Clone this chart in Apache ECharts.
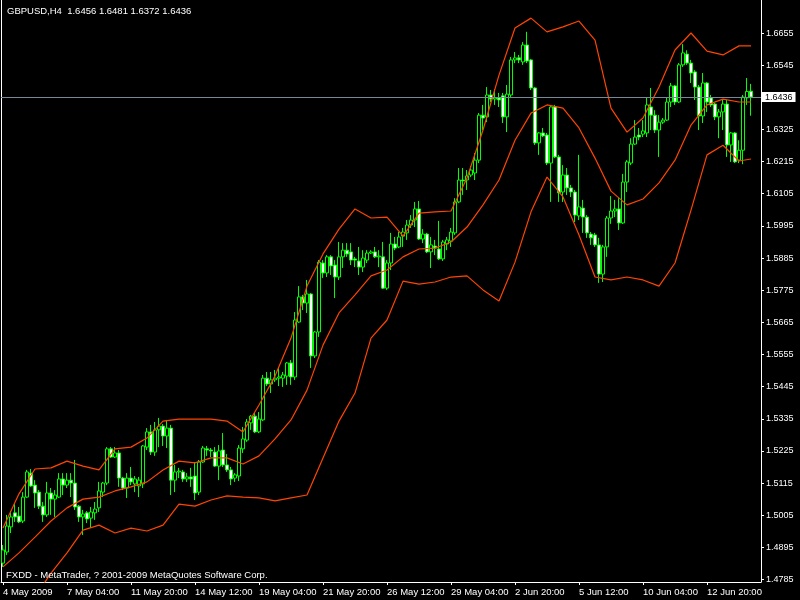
<!DOCTYPE html>
<html>
<head>
<meta charset="utf-8">
<script src="https://cdn.jsdelivr.net/npm/echarts/dist/echarts.min.js"></script>
<style>
html,body{margin:0;padding:0;background:#000;}
#chart{width:800px;height:600px;}
</style>
</head>
<body>
<div id="chart"></div>
<script>
const symbolName = 'GBPUSD,H4';
const footerText = 'FXDD - MetaTrader, ? 2001-2009 MetaQuotes Software Corp.';
const tickLabels = ['4 May 2009','7 May 04:00','11 May 20:00','14 May 12:00','19 May 04:00','21 May 20:00','26 May 12:00','29 May 04:00','2 Jun 20:00','5 Jun 12:00','10 Jun 04:00','12 Jun 20:00'];
const priceTicks = [1.4785,1.4895,1.5005,1.5115,1.5225,1.5335,1.5445,1.5555,1.5665,1.5775,1.5885,1.5995,1.6105,1.6215,1.6325,1.6436,1.6545,1.6655];

const opens = [
1.4841,1.4879,1.4965,1.5013,1.5002,1.4985,1.5067,1.5149,1.5108,1.5084,
1.5036,1.5006,1.5081,1.5060,1.5067,1.5129,1.5108,1.5125,1.5115,1.5036,
1.4999,1.5013,1.4995,1.5013,1.5030,1.5084,1.5115,1.5232,1.5204,1.5218,
1.5132,1.5098,1.5132,1.5112,1.5105,1.5112,1.5238,1.5290,1.5221,1.5297,
1.5310,1.5276,1.5303,1.5125,1.5153,1.5153,1.5129,1.5136,1.5139,1.5084,
1.5187,1.5232,1.5228,1.5221,1.5173,1.5228,1.5177,1.5160,1.5132,1.5139,
1.5232,1.5262,1.5321,1.5344,1.5290,1.5331,1.5474,1.5454,1.5468,1.5474,
1.5474,1.5481,1.5526,1.5478,1.5666,1.5752,1.5731,1.5762,1.5550,1.5632,
1.5868,1.5834,1.5889,1.5861,1.5820,1.5889,1.5912,1.5906,1.5882,1.5875,
1.5854,1.5878,1.5902,1.5906,1.5889,1.5889,1.5782,1.5868,1.5933,1.5923,
1.5960,1.5971,1.5998,1.6015,1.6053,1.5950,1.5967,1.5906,1.5926,1.5916,
1.5882,1.5933,1.5943,1.5971,1.6077,1.6152,1.6152,1.6169,1.6176,1.6220,
1.6374,1.6368,1.6443,1.6429,1.6433,1.6440,1.6368,1.6443,1.6563,1.6570,
1.6556,1.6614,1.6563,1.6467,1.6279,1.6313,1.6306,1.6210,1.6402,1.6231,
1.6111,1.6169,1.6125,1.6111,1.6029,1.6056,1.6025,1.5967,1.5964,1.5930,
1.5830,1.5923,1.6022,1.6046,1.6053,1.6005,1.6145,1.6210,1.6275,1.6306,
1.6309,1.6313,1.6402,1.6374,1.6323,1.6350,1.6357,1.6419,1.6474,1.6419,
1.6546,1.6583,1.6552,1.6522,1.6470,1.6371,1.6484,1.6433,1.6412,1.6368,
1.6385,1.6412,1.6272,1.6313,1.6220,1.6254,1.6433,1.6456];

const highs = [
1.4903,1.5006,1.5019,1.5043,1.5033,1.5084,1.5160,1.5163,1.5125,1.5091,
1.5050,1.5119,1.5098,1.5091,1.5149,1.5149,1.5149,1.5149,1.5194,1.5040,
1.5023,1.5019,1.5033,1.5050,1.5119,1.5119,1.5238,1.5238,1.5238,1.5228,
1.5136,1.5149,1.5170,1.5139,1.5136,1.5245,1.5303,1.5314,1.5324,1.5338,
1.5317,1.5331,1.5314,1.5177,1.5167,1.5160,1.5149,1.5167,1.5187,1.5194,
1.5242,1.5242,1.5235,1.5238,1.5245,1.5286,1.5214,1.5170,1.5149,1.5245,
1.5307,1.5334,1.5348,1.5355,1.5358,1.5485,1.5495,1.5495,1.5502,1.5509,
1.5495,1.5529,1.5536,1.5700,1.5789,1.5759,1.5810,1.5765,1.5635,1.5878,
1.5878,1.5895,1.5895,1.5878,1.5940,1.5936,1.5936,1.5936,1.5889,1.5923,
1.5912,1.5912,1.5912,1.5923,1.5912,1.5940,1.5878,1.5971,1.5957,1.5974,
1.5988,1.6015,1.6032,1.6077,1.6080,1.5984,1.5971,1.5957,1.5947,1.6012,
1.5947,1.5957,1.5988,1.6090,1.6193,1.6193,1.6186,1.6200,1.6244,1.6381,
1.6409,1.6470,1.6460,1.6463,1.6450,1.6450,1.6477,1.6573,1.6590,1.6580,
1.6624,1.6659,1.6566,1.6470,1.6316,1.6330,1.6313,1.6405,1.6409,1.6238,
1.6203,1.6193,1.6135,1.6118,1.6238,1.6084,1.6032,1.5974,1.5971,1.5954,
1.5930,1.6029,1.6097,1.6084,1.6090,1.6173,1.6220,1.6295,1.6357,1.6330,
1.6357,1.6436,1.6467,1.6391,1.6374,1.6364,1.6433,1.6484,1.6477,1.6552,
1.6617,1.6596,1.6563,1.6528,1.6477,1.6518,1.6487,1.6443,1.6416,1.6395,
1.6426,1.6426,1.6316,1.6316,1.6288,1.6443,1.6501,1.6481];

const lows = [
1.4828,1.4869,1.4944,1.4982,1.4978,1.4978,1.5064,1.5102,1.5030,1.5026,
1.4982,1.4999,1.5006,1.4999,1.5064,1.5074,1.5098,1.5067,1.5023,1.4982,
1.4937,1.4978,1.4961,1.4989,1.5016,1.5067,1.5108,1.5201,1.5201,1.5102,
1.5091,1.5064,1.5108,1.5084,1.5067,1.5098,1.5228,1.5211,1.5208,1.5238,
1.5242,1.5235,1.5074,1.5084,1.5132,1.5119,1.5119,1.5102,1.5057,1.5074,
1.5184,1.5208,1.5204,1.5170,1.5125,1.5170,1.5153,1.5108,1.5119,1.5122,
1.5218,1.5256,1.5297,1.5286,1.5286,1.5327,1.5447,1.5423,1.5461,1.5447,
1.5444,1.5451,1.5451,1.5468,1.5663,1.5707,1.5697,1.5509,1.5543,1.5615,
1.5817,1.5820,1.5827,1.5748,1.5810,1.5851,1.5889,1.5861,1.5854,1.5827,
1.5837,1.5868,1.5899,1.5885,1.5854,1.5779,1.5776,1.5844,1.5912,1.5919,
1.5923,1.5947,1.5988,1.5991,1.5947,1.5936,1.5902,1.5851,1.5895,1.5878,
1.5875,1.5912,1.5923,1.5964,1.6073,1.6101,1.6118,1.6162,1.6152,1.6210,
1.6323,1.6350,1.6419,1.6409,1.6402,1.6347,1.6316,1.6436,1.6552,1.6552,
1.6546,1.6552,1.6460,1.6272,1.6238,1.6299,1.6203,1.6077,1.6227,1.6077,
1.6077,1.6101,1.6094,1.6008,1.6015,1.5971,1.5954,1.5930,1.5923,1.5800,
1.5803,1.5889,1.6002,1.6025,1.5981,1.6002,1.6111,1.6203,1.6272,1.6288,
1.6299,1.6299,1.6323,1.6313,1.6231,1.6344,1.6354,1.6402,1.6409,1.6416,
1.6539,1.6546,1.6484,1.6426,1.6323,1.6347,1.6385,1.6402,1.6357,1.6295,
1.6323,1.6231,1.6214,1.6210,1.6210,1.6206,1.6409,1.6372];

const closes = [
1.4886,1.4968,1.4999,1.4999,1.4982,1.5067,1.5153,1.5105,1.5081,1.5036,
1.5006,1.5081,1.5060,1.5074,1.5129,1.5108,1.5125,1.5115,1.5033,1.4999,
1.5009,1.4992,1.5016,1.5026,1.5088,1.5115,1.5232,1.5204,1.5218,1.5132,
1.5098,1.5132,1.5119,1.5129,1.5125,1.5242,1.5290,1.5221,1.5297,1.5310,
1.5276,1.5303,1.5125,1.5153,1.5156,1.5129,1.5136,1.5129,1.5081,1.5187,
1.5235,1.5228,1.5225,1.5173,1.5225,1.5177,1.5160,1.5129,1.5143,1.5235,
1.5266,1.5324,1.5344,1.5290,1.5334,1.5474,1.5454,1.5468,1.5474,1.5478,
1.5485,1.5526,1.5478,1.5673,1.5752,1.5731,1.5762,1.5550,1.5632,1.5871,
1.5834,1.5889,1.5858,1.5820,1.5889,1.5912,1.5899,1.5878,1.5878,1.5854,
1.5885,1.5902,1.5906,1.5889,1.5892,1.5782,1.5868,1.5933,1.5919,1.5957,
1.5974,1.5998,1.6015,1.6053,1.5950,1.5967,1.5906,1.5930,1.5919,1.5882,
1.5940,1.5947,1.5974,1.6077,1.6152,1.6149,1.6166,1.6186,1.6220,1.6374,
1.6364,1.6443,1.6429,1.6433,1.6426,1.6368,1.6446,1.6563,1.6570,1.6563,
1.6614,1.6559,1.6467,1.6279,1.6313,1.6303,1.6210,1.6402,1.6231,1.6108,
1.6169,1.6125,1.6111,1.6032,1.6060,1.6025,1.5971,1.5954,1.5930,1.5830,
1.5923,1.6022,1.6046,1.6053,1.6005,1.6145,1.6214,1.6275,1.6299,1.6299,
1.6320,1.6409,1.6374,1.6323,1.6350,1.6357,1.6419,1.6474,1.6419,1.6546,
1.6587,1.6552,1.6518,1.6470,1.6371,1.6484,1.6419,1.6409,1.6368,1.6385,
1.6412,1.6272,1.6313,1.6214,1.6254,1.6436,1.6455,1.6436];

// Bollinger band readings, taken every 4th bar and at the last bar
const bandUpper = [
1.4961,1.5078,1.5163,1.5167,1.5190,1.5173,1.5160,1.5232,1.5238,1.5269,
1.5327,1.5334,1.5334,1.5334,1.5327,1.5290,1.5382,1.5481,1.5611,1.5789,
1.5899,1.5984,1.6053,1.6022,1.6025,1.5960,1.6039,1.6043,1.6046,1.6159,
1.6323,1.6511,1.6672,1.6706,1.6659,1.6676,1.6696,1.6631,1.6398,1.6316,
1.6364,1.6470,1.6597,1.6655,1.6593,1.6580,1.6611,1.6611];
const bandMiddle = [
1.4828,1.4876,1.4930,1.4985,1.5030,1.5060,1.5067,1.5088,1.5102,1.5119,
1.5160,1.5190,1.5184,1.5201,1.5201,1.5180,1.5208,1.5266,1.5331,1.5433,
1.5587,1.5697,1.5759,1.5824,1.5844,1.5889,1.5916,1.5919,1.5940,1.5991,
1.6067,1.6152,1.6288,1.6381,1.6409,1.6398,1.6330,1.6227,1.6114,1.6067,
1.6087,1.6142,1.6220,1.6340,1.6409,1.6429,1.6419,1.6419];
const bandLower = [
1.4578,1.4663,1.4725,1.4807,1.4876,1.4954,1.4971,1.4944,1.4961,1.4951,
1.4971,1.5043,1.5036,1.5057,1.5071,1.5067,1.5064,1.5054,1.5064,1.5074,
1.5201,1.5327,1.5423,1.5611,1.5673,1.5806,1.5796,1.5803,1.5820,1.5824,
1.5776,1.5738,1.5871,1.6043,1.6162,1.6094,1.5964,1.5820,1.5810,1.5820,
1.5810,1.5789,1.5868,1.6049,1.6238,1.6271,1.6217,1.6224];

const barCount = closes.length;
const chartShift = 2;           // empty bar slots at the right edge
const labelEvery = 16;
const bandStep = 4;

// bar times (H4, weekdays)
const categories = [];
(function(){
  let t = Date.UTC(2009, 4, 4, 12);
  while (categories.length < barCount + chartShift) {
    const d = new Date(t);
    const wd = d.getUTCDay();
    if (wd !== 0 && wd !== 6) categories.push(d.toISOString().slice(0, 16).replace('T', ' '));
    t += 4 * 3600 * 1000;
  }
})();

const bandBars = [];
for (let k = 0; k * bandStep < barCount - 1; k++) bandBars.push(k * bandStep);
bandBars.push(barCount - 1);

const candleData = opens.map((o, i) => [o, closes[i], lows[i], highs[i]]);
const toBand = arr => arr.map((v, k) => [bandBars[k], v]);

const last = barCount - 1;
const lastPrice = closes[last];
const headerText = symbolName + '  ' + [opens[last], highs[last], lows[last], closes[last]].map(v => v.toFixed(4)).join(' ');

const FONT = "'Liberation Sans', Arial, sans-serif";
const isLabelBar = idx => idx % labelEvery === 0 && idx / labelEvery < tickLabels.length;

const chart = echarts.init(document.getElementById('chart'), null, {renderer: 'canvas'});
const bandStyle = {color: '#ff4500', width: 1.2};
chart.setOption({
  backgroundColor: '#000000',
  animation: false,
  title: [
    {text: headerText, left: 7, top: 6, padding: 0, textStyle: {color: '#ffffff', fontSize: 9.5, fontWeight: 'normal', fontFamily: FONT}},
    {text: footerText, left: 6, top: 570, padding: 0, textStyle: {color: '#ffffff', fontSize: 9.5, fontWeight: 'normal', fontFamily: FONT}}
  ],
  grid: {left: 1, right: 39, top: 0, bottom: 18},
  xAxis: {
    type: 'category',
    data: categories,
    boundaryGap: true,
    axisLine: {show: true, lineStyle: {color: '#ffffff', width: 1}},
    axisTick: {show: true, alignWithLabel: true, length: 3, interval: idx => isLabelBar(idx), lineStyle: {color: '#ffffff'}},
    axisLabel: {
      show: true, interval: idx => isLabelBar(idx), align: 'left', margin: 5,
      color: '#ffffff', fontSize: 9.5, fontFamily: FONT,
      formatter: (val, idx) => tickLabels[idx / labelEvery]
    },
    splitLine: {show: false}
  },
  yAxis: [{
    type: 'value',
    position: 'right',
    min: 1.47764,
    max: 1.6768,
    axisLine: {show: true, lineStyle: {color: '#ffffff', width: 1}},
    axisTick: {show: true, length: 3, customValues: priceTicks, lineStyle: {color: '#ffffff'}},
    axisLabel: {show: true, customValues: priceTicks, margin: 5, color: '#ffffff', fontSize: 9, fontFamily: FONT, formatter: v => v.toFixed(4)},
    splitLine: {show: false}
  }, {
    type: 'value',
    position: 'left',
    min: 1.47764,
    max: 1.6768,
    axisLine: {show: true, lineStyle: {color: '#ffffff', width: 1}},
    axisTick: {show: false},
    axisLabel: {show: false},
    splitLine: {show: false}
  }],
  series: [{
    type: 'line',
    data: [],
    silent: true,
    z: 1,
    markLine: {
      silent: true,
      precision: 4,
      symbol: ['none', 'none'],
      data: [{yAxis: lastPrice}],
      lineStyle: {color: '#778899', width: 1, type: 'solid'},
      label: {
        show: true, position: 'end', distance: 1,
        formatter: () => lastPrice.toFixed(4),
        backgroundColor: '#ffffff', color: '#000000',
        fontSize: 9, fontFamily: FONT, padding: [1, 3, 0, 3]
      }
    }
  }, {
    type: 'candlestick',
    data: candleData,
    barWidth: 3,
    silent: true,
    z: 2,
    itemStyle: {
      color: '#000000', color0: '#ffffff',
      borderColor: '#00ff00', borderColor0: '#00ff00', borderColorDoji: '#00ff00',
      borderWidth: 1
    }
  }, {
    type: 'line', data: toBand(bandUpper), connectNulls: true, showSymbol: false, silent: true, lineStyle: bandStyle, z: 3
  }, {
    type: 'line', data: toBand(bandMiddle), connectNulls: true, showSymbol: false, silent: true, lineStyle: bandStyle, z: 3
  }, {
    type: 'line', data: toBand(bandLower), connectNulls: true, showSymbol: false, silent: true, lineStyle: bandStyle, z: 3
  }]
});
</script>
</body>
</html>
